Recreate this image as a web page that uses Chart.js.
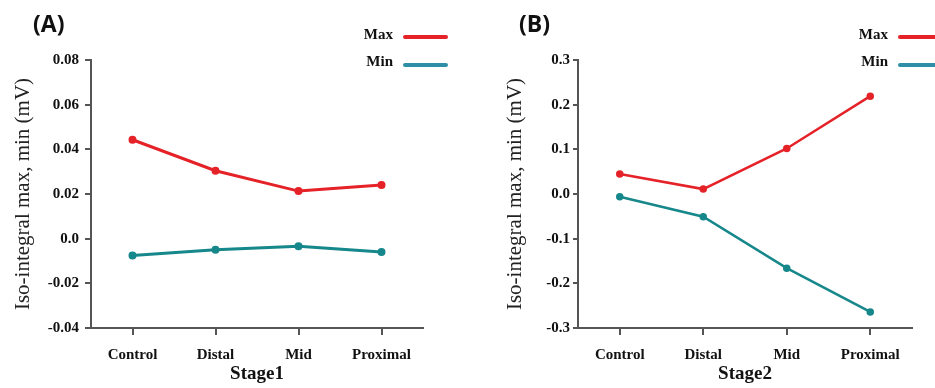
<!DOCTYPE html>
<html>
<head>
<meta charset="utf-8">
<script src="https://cdn.jsdelivr.net/npm/chart.js@4"></script>
<style>
  body { margin: 0; background: #fff; }
  #page { position: relative; width: 935px; height: 388px; overflow: hidden; background: #fff; }
  .panel { position: absolute; top: 0; height: 388px; }
  .tag { position: absolute; font-family: 'Open Sans', sans-serif; font-weight: 700; font-size: 23px; color: #111; line-height: 1; }
  .leg { position: absolute; font-family: 'Liberation Serif', serif; font-weight: 700; font-size: 15px; color: #111; }
  .leg div { position: relative; height: 27px; }
  .leg span { position: absolute; right: 55px; top: 0; }
  .leg i { position: absolute; left: 0; width: 45px; height: 4px; border-radius: 2px; }
</style>
</head>
<body>
<div id="page">
  <div class="panel" id="boxA" style="left:0;width:467px"><canvas id="chartA"></canvas></div>
  <div class="panel" id="boxB" style="left:492px;width:443px"><canvas id="chartB"></canvas></div>
  <div class="tag" style="left:33px;top:12px">(A)</div>
  <div class="tag" style="left:519px;top:12px">(B)</div>
  <div class="leg" id="legA" style="left:348px;top:26px;width:100px"></div>
  <div class="leg" id="legB" style="left:843px;top:26px;width:100px"></div>
</div>
<script>
const categories = ['Control', 'Distal', 'Mid', 'Proximal'];
const seriesNames = ['Max', 'Min'];

// Stage 1 (A)
const stage1Max = [0.0443, 0.0304, 0.0213, 0.0240];
const stage1Min = [-0.0075, -0.0050, -0.0034, -0.0060];
const yTicksA = ['-0.04', '-0.02', '0.0', '0.02', '0.04', '0.06', '0.08'];

// Stage 2 (B)
const stage2Max = [0.045, 0.011, 0.102, 0.219];
const stage2Min = [-0.006, -0.051, -0.166, -0.264];
const yTicksB = ['-0.3', '-0.2', '-0.1', '0.0', '0.1', '0.2', '0.3'];

const red = '#e42228';
const teal = '#16878a';
const legendColors = ['#e42228', '#2f8fa6'];
const axisColor = '#555';
const serif = "'Liberation Serif', 'Times New Roman', serif";

function makeChart(id, maxData, minData, tickLabels, yMin, yMax, step, xTitle, opts) {
    const ctx = document.getElementById(id).getContext('2d');
    return new Chart(ctx, {
        type: 'line',
        data: {
            labels: categories,
            datasets: [{
                label: seriesNames[0],
                data: maxData,
                borderColor: red,
                backgroundColor: red,
                borderWidth: opts.lineW,
                pointRadius: 2.5,
                pointHoverRadius: 2.5,
                tension: 0
            }, {
                label: seriesNames[1],
                data: minData,
                borderColor: teal,
                backgroundColor: teal,
                borderWidth: opts.lineW,
                pointRadius: 2.5,
                pointHoverRadius: 2.5,
                tension: 0
            }]
        },
        options: {
            responsive: true,
            maintainAspectRatio: false,
            animation: false,
            layout: { padding: { left: 0, top: 60, right: opts.right, bottom: 0 } },
            plugins: { legend: { display: false }, tooltip: { enabled: false } },
            scales: {
                x: {
                    offset: true,
                    afterFit: function(scale) { scale.height = 60; },
                    grid: { drawOnChartArea: false, drawTicks: true, tickLength: 7, color: axisColor, lineWidth: 2, offset: false },
                    border: { display: true, color: axisColor, width: 2 },
                    ticks: { color: '#111', padding: 11, maxRotation: 0, font: { family: serif, size: 15, weight: 'bold' } },
                    title: { display: true, text: xTitle, color: '#111', padding: { top: 0, bottom: 3 }, font: { family: serif, size: 19, weight: 'bold' } }
                },
                y: {
                    min: yMin,
                    max: yMax,
                    afterFit: function(scale) { scale.width = opts.axisX; },
                    grid: { drawOnChartArea: false, drawTicks: true, tickLength: opts.tickLen, color: axisColor, lineWidth: 2 },
                    border: { display: true, color: axisColor, width: 2 },
                    ticks: {
                        stepSize: step,
                        padding: opts.tickPad,
                        color: '#111',
                        font: { family: serif, size: 15, weight: 'bold' },
                        callback: function(value, index) { return tickLabels[index]; }
                    },
                    title: { display: true, text: 'Iso-integral max, min (mV)', color: '#222', padding: { top: 11, bottom: 0 }, font: { family: serif, size: 21 } }
                }
            }
        }
    });
}

makeChart('chartA', stage1Max, stage1Min, yTicksA, -0.04, 0.08, 0.02, 'Stage1', { right: 44, axisX: 91, tickLen: 6, tickPad: 6, lineW: 3 });
makeChart('chartB', stage2Max, stage2Min, yTicksB, -0.3, 0.3, 0.1, 'Stage2', { right: 23, axisX: 86, tickLen: 5, tickPad: 3, lineW: 2.5 });

// legends built from the series names
function buildLegend(id) {
    const el = document.getElementById(id);
    seriesNames.forEach(function(name, i) {
        const row = document.createElement('div');
        row.innerHTML = '<span>' + name + '</span><i style="left:55px;top:' + (i === 0 ? 9 : 10) + 'px;background:' + legendColors[i] + '"></i>';
        el.appendChild(row);
    });
}
buildLegend('legA');
buildLegend('legB');
</script>
</body>
</html>
